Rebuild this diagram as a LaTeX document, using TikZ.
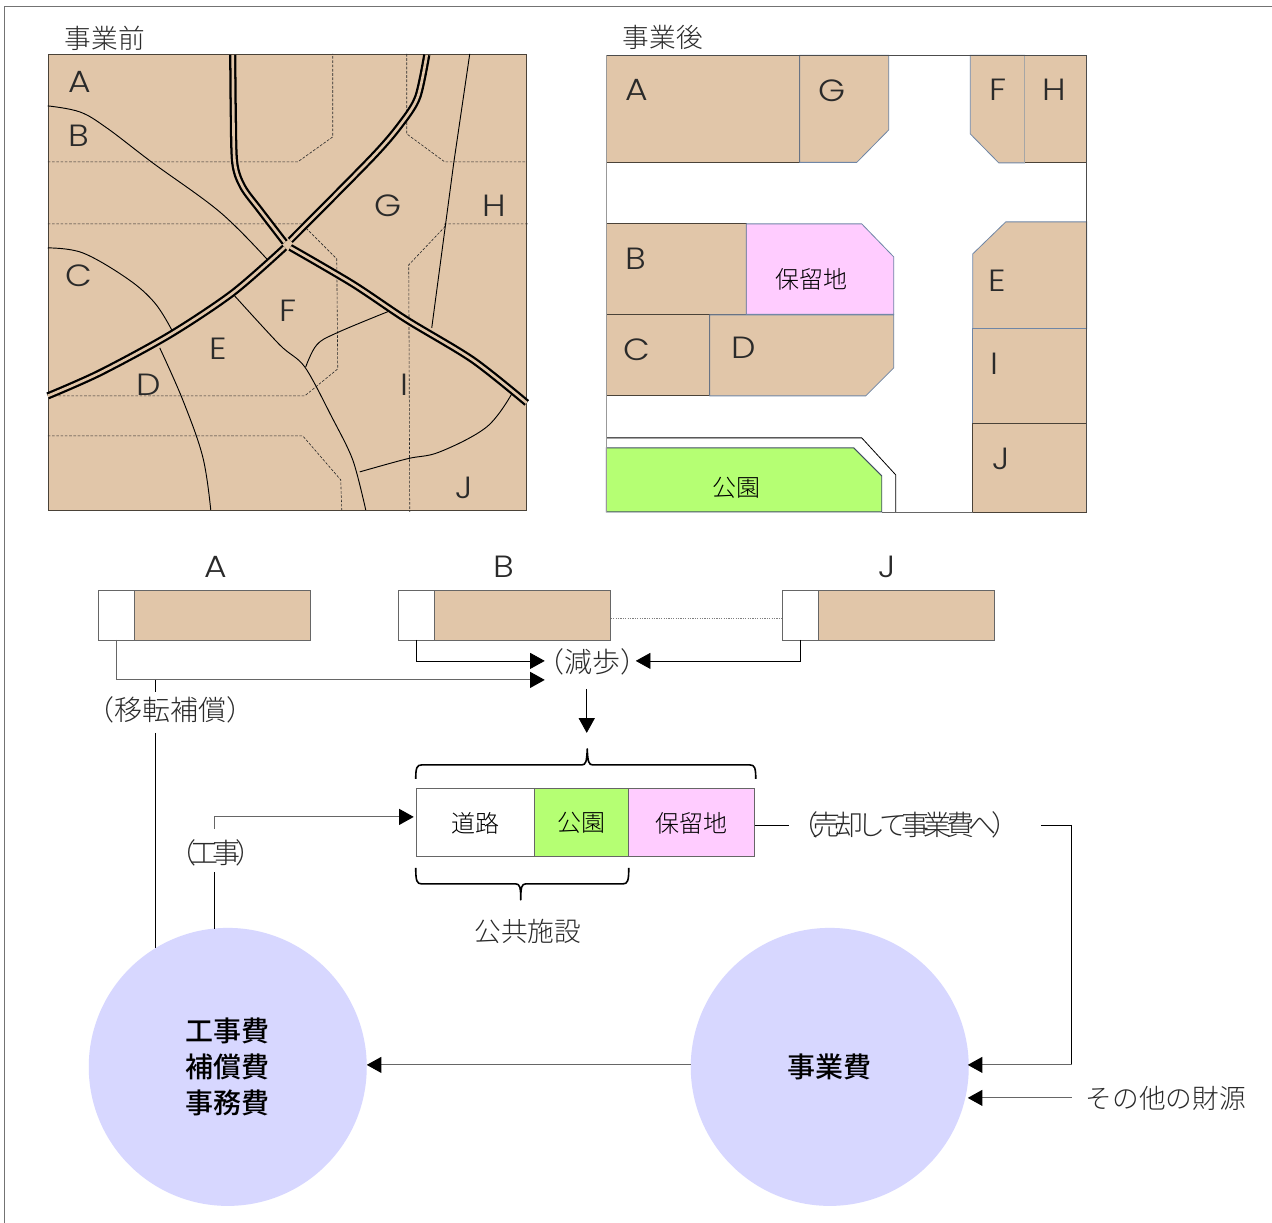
\documentclass[tikz,border=0pt]{standalone}
\usepackage{fontspec}
\setmainfont[FakeStretch=1.13]{Poppins Light}
\newfontfamily\cjk{Noto Sans CJK JP Light}
\newfontfamily\cjkb{Noto Sans CJK JP Medium}
\usetikzlibrary{arrows.meta}
\definecolor{tanlot}{HTML}{E1C6A9}
\definecolor{pinkp}{HTML}{FFCCFF}
\definecolor{parkg}{HTML}{B5FF73}
\definecolor{lav}{HTML}{D7D7FF}
\definecolor{ink}{HTML}{2A2A2A}
\definecolor{edgeb}{HTML}{6F86A6}
\definecolor{edged}{HTML}{4A4238}
\tikzset{
 lot/.style={fill=tanlot,draw=edged,line width=0.6pt,line join=miter},
 lotb/.style={fill=tanlot,draw=edgeb,line width=0.6pt},
 road/.style={draw=black,line width=5.4pt,line cap=butt,line join=round},
 roadin/.style={draw=tanlot,line width=2pt,line cap=butt,line join=round},
 thinln/.style={draw=black,line width=0.7pt},
 dashln/.style={draw=ink,line width=0.45pt,dash pattern=on 2pt off 1.2pt},
 lett/.style={font=\fontsize{23}{23}\selectfont,text=ink,inner sep=0pt},
 jp/.style={font=\cjk\fontsize{20}{20}\selectfont,text=ink,inner sep=0pt},
 jpw/.style={font=\cjk\fontsize{21}{21}\selectfont,text=ink,inner sep=0pt},
 jpt/.style={font=\cjk\fontsize{21}{21}\selectfont\addfontfeatures{LetterSpace=-20},text=ink,inner sep=0pt},
 jps/.style={font=\cjk\fontsize{18}{18}\selectfont,text=black,inner sep=0pt},
 boldjp/.style={font=\cjkb\fontsize{21}{27}\selectfont,text=black,inner sep=0pt,align=center},
 conn/.style={draw=black,line width=0.6pt},
 connd/.style={draw=black!60,line width=0.8pt},
 arr/.style={-{Triangle[length=11pt,width=12pt,color=black]}},
 barbox/.style={draw=black!60,line width=0.6pt,inner sep=0pt,outer sep=0pt,minimum height=37.5pt},
 segbox/.style={draw=black!60,line width=0.7pt,inner sep=0pt,outer sep=0pt,minimum height=51pt,font=\cjk\fontsize{18}{18}\selectfont,text=black},
 bracket/.style={draw=black,line width=1.2pt,line join=round},
 disc/.style={circle,fill=lav,draw=none,minimum size=208.5pt,inner sep=0pt,outer sep=0pt},
}
\begin{document}
\begin{tikzpicture}[x=0.75pt,y=-0.75pt]
\useasboundingbox (0,0) rectangle (1272,1223);
\fill[white] (0,0) rectangle (1272,1223);
\begin{scope}[shift={(-0.25,-0.1)}]
% frame
\draw[draw=black!55,line width=0.6pt] (5,1224) -- (5,7) -- (1273,7);
% titles
\node[jp] (t1) at (105,38) {事業前};
\node[jp] (t2) at (663,38) {事業後};
% BEFORE MAP
\path[lot] (48.5,54.5) rectangle (527,510);
\begin{scope}
\clip (40,54) rectangle (530,514);
\draw[dashln] (48,162) -- (298,162) -- (333,137) -- (333,54);
\draw[dashln] (407,54) -- (407,134) -- (445,162) -- (527,162);
\draw[dashln] (48,224) -- (302,224) -- (337,259) -- (338,369) -- (305,396) -- (48,396);
\draw[dashln] (528,224) -- (445,224) -- (445,227) -- (409,265) -- (410,512);
\draw[dashln] (48,436) -- (303,436) -- (341,480) -- (342,510);
\draw[thinln] plot[smooth,tension=0.6] coordinates {(48,106) (80,112) (107,128) (153,163) (220,212) (267,259)};
\draw[thinln] (470,54) -- (454,163) -- (446,223) -- (432,328);
\draw[thinln] plot[smooth,tension=0.6] coordinates {(48,248) (83,253) (128,279) (155,303) (172,330)};
\draw[thinln] plot[smooth,tension=0.6] coordinates {(160,348) (183,400) (203,457) (211,510)};
\draw[thinln] plot[smooth,tension=0.5] coordinates {(234,295) (280,345) (305,367) (332,417) (353,460) (366,510)};
\draw[thinln] plot[smooth,tension=0.6] coordinates {(306,367) (317,345) (337,333) (390,311)};
\draw[thinln] plot[smooth,tension=0.6] coordinates {(360,472) (407,459) (440,452) (487,427) (512,394)};
\end{scope}
\foreach \r in {
 {(233,55) (233.5,110) (235,163) (243,187) (260,210) (285,242.5)},
 {(427,55) (418,97) (402,123) (373,157) (290.5,240.5)},
 {(285,247.5) (233,293) (170,335) (100,373) (48,396)},
 {(290.5,247.5) (353,284) (407,320) (473,360) (527,403)}}{
 \draw[road] plot[smooth,tension=0.5] coordinates {\r};
 \draw[roadin] plot[smooth,tension=0.5] coordinates {\r};
}
\node[lett] (la) at (80,82) {A};
\node[lett] (lb) at (79,136) {B};
\node[lett] (lc) at (79,276) {C};
\node[lett] (ld) at (149,385) {D};
\node[lett] (le) at (218,349) {E};
\node[lett] (lf) at (288,311) {F};
\node[lett] (lg) at (388,206) {G};
\node[lett] (lh) at (495,206) {H};
\node[lett] (li) at (405,385) {I};
\node[lett] (lj) at (464,488) {J};
% AFTER MAP
\path[lot] (606.5,55.5) rectangle (800,162.5);
\path[lotb] (800,55.5) -- (889,55.5) -- (889,130) -- (857,162.5) -- (800,162.5) -- cycle;
\path[lotb] (970.5,55.5) -- (1025,55.5) -- (1025,163) -- (999,163) -- (970.5,134) -- cycle;
\path[lot] (1025,55.5) rectangle (1087,163);
\draw[draw=black!35,line width=1pt] (1025,55.5) -- (1025,163);
\path[lotb] (973,254) -- (1006,222) -- (1087,222) -- (1087,329) -- (973,329) -- cycle;
\path[lotb] (973,329) rectangle (1087,424);
\path[lot] (973,424) rectangle (1087,512);
\path[lot] (606.5,224) rectangle (746.5,314.5);
\path[fill=pinkp,draw=edgeb,line width=0.6pt] (746.5,224) -- (862,224) -- (894,257) -- (894,314.5) -- (746.5,314.5) -- cycle;
\path[lot] (606.5,315) rectangle (710,396);
\path[lotb] (710,315) -- (894,315) -- (894,368) -- (866,396) -- (710,396) -- cycle;
\path[fill=parkg,draw=black!40!edgeb,line width=0.7pt] (606.5,448) -- (854,448) -- (882,476) -- (882,512) -- (606.5,512) -- cycle;
\draw[draw=black,line width=0.6pt] (607,438) -- (862,438) -- (896,475) -- (896,513);
\draw[draw=black!60,line width=0.6pt] (882,512) -- (973,512);
\draw[draw=black!70,line width=0.6pt] (606.5,55.5) -- (1087,55.5) -- (1087,512);
\draw[draw=black!40,line width=0.7pt] (606.5,55.5) -- (606.5,512);
\node[lett] (ra) at (637,90) {A};
\node[lett] (rg) at (832,91) {G};
\node[lett] (rf) at (998,90) {F};
\node[lett] (rh) at (1055,90) {H};
\node[lett] (rb) at (636,259) {B};
\node[lett] (re) at (997,281) {E};
\node[lett] (rc) at (637,350) {C};
\node[lett] (rd) at (744,348) {D};
\node[lett] (ri) at (995,364) {I};
\node[lett] (rj) at (1001,459) {J};
\node[jps] (rp) at (812,279) {保留地};
\node[jps] (rk) at (737,488) {公園};
% BARS
\node[lett] (ha) at (216,567) {A};
\node[lett] (hb) at (504,567) {B};
\node[lett] (hj) at (887,567) {J};
\node[barbox,fill=white,minimum width=27pt] (aw) at (117,615) {};
\node[barbox,fill=tanlot,minimum width=132pt] (at) at (223,615) {};
\node[barbox,fill=white,minimum width=27pt] (bw) at (417,615) {};
\node[barbox,fill=tanlot,minimum width=132pt] (bt) at (523,615) {};
\node[barbox,fill=white,minimum width=27pt] (jw) at (801,615) {};
\node[barbox,fill=tanlot,minimum width=132pt] (jt) at (907,615) {};
\draw[draw=black!50,line width=0.5pt,dash pattern=on 1pt off 0.8pt] ([yshift=-2.2pt]bt.east) -- ([yshift=-2.2pt]jw.west);
% labels in the flow
\node[jpw] (gen) at (593,662) {（減歩）};
\node[jpw] (iten) at (171,710) {（移転補償）};
\coordinate (g1) at (545,661);
\coordinate (g2) at (636,661);
\coordinate (g3) at (545,680);
\coordinate (g4) at (587,689);
\coordinate (g5) at (587,733);
\draw[conn,arr] (bw.south) |- (g1);
\draw[conn,arr] (jw.south) |- (g2);
\draw[connd,arr] (aw.south) |- (g3);
\draw[conn,arr] (g4) -- (g5);
\coordinate (tb) at (156,680);
\coordinate (tb2) at (156,692);
\coordinate (tb3) at (156,733);
\coordinate (tb4) at (156,948);
\draw[conn] (tb) -- (tb2);
\draw[conn] (tb3) -- (tb4);
% segments
\node[segbox,fill=white,minimum width=88.5pt] (road) at (476,823) {道路};
\node[segbox,fill=parkg,minimum width=70.5pt] (park) at (582,823) {公園};
\node[segbox,fill=pinkp,minimum width=94.5pt] (hold) at (692,823) {保留地};
\draw[bracket] (416,779) .. controls (416,768) and (417,765) .. (422,765) -- (582,765) .. controls (586,765) and (587,762) .. (587.5,749) .. controls (588,762) and (589,765) .. (593,765) -- (750,765) .. controls (755,765) and (756,768) .. (756,779);
\draw[bracket] (416,868) .. controls (416,881) and (417,884) .. (422,884) -- (516,884) .. controls (520,884) and (521,887) .. (521,900) .. controls (521,887) and (522,884) .. (526,884) -- (623,884) .. controls (628,884) and (629,881) .. (629,868);
\node[jp] (pub) at (528,932) {公共施設};
\node[jpt] (sell) at (905,825) {（売却して事業費へ）};
\node[jpt] (kou) at (216,853) {（工事）};
% circles
\node[disc,boldjp] (cost) at (228,1067) {工事費\\補償費\\事務費};
\node[disc,boldjp] (fund) at (830,1067) {事業費};
\node[jp] (other) at (1166,1098) {その他の財源};
\coordinate (s1) at (789,825);
\coordinate (s2) at (1041,825);
\coordinate (s3) at (1072,825);
\coordinate (s4) at (968,1065);
\coordinate (s5) at (968,1098);
\coordinate (s6) at (1072,1098);
\coordinate (k1) at (215,929);
\coordinate (k2) at (215,872);
\coordinate (k3) at (215,829);
\coordinate (k4) at (215,817);
\coordinate (k5) at (414,817);
\coordinate (c1) at (691,1065);
\coordinate (c2) at (367,1065);
\draw[conn] (hold.east |- s1) -- (s1);
\draw[conn] (s2) -- (s3);
\draw[conn] (s3) -- (s3 |- s4);
\draw[connd,arr] (s3 |- s4) -- (s4);
\draw[connd,arr] (s6) -- (s5);
\draw[connd,arr] (c1) -- (c2);
\draw[conn] (k1) -- (k2);
\draw[connd,arr] (k3) -- (k4) -- (k5);
\end{scope}
\end{tikzpicture}
\end{document}
